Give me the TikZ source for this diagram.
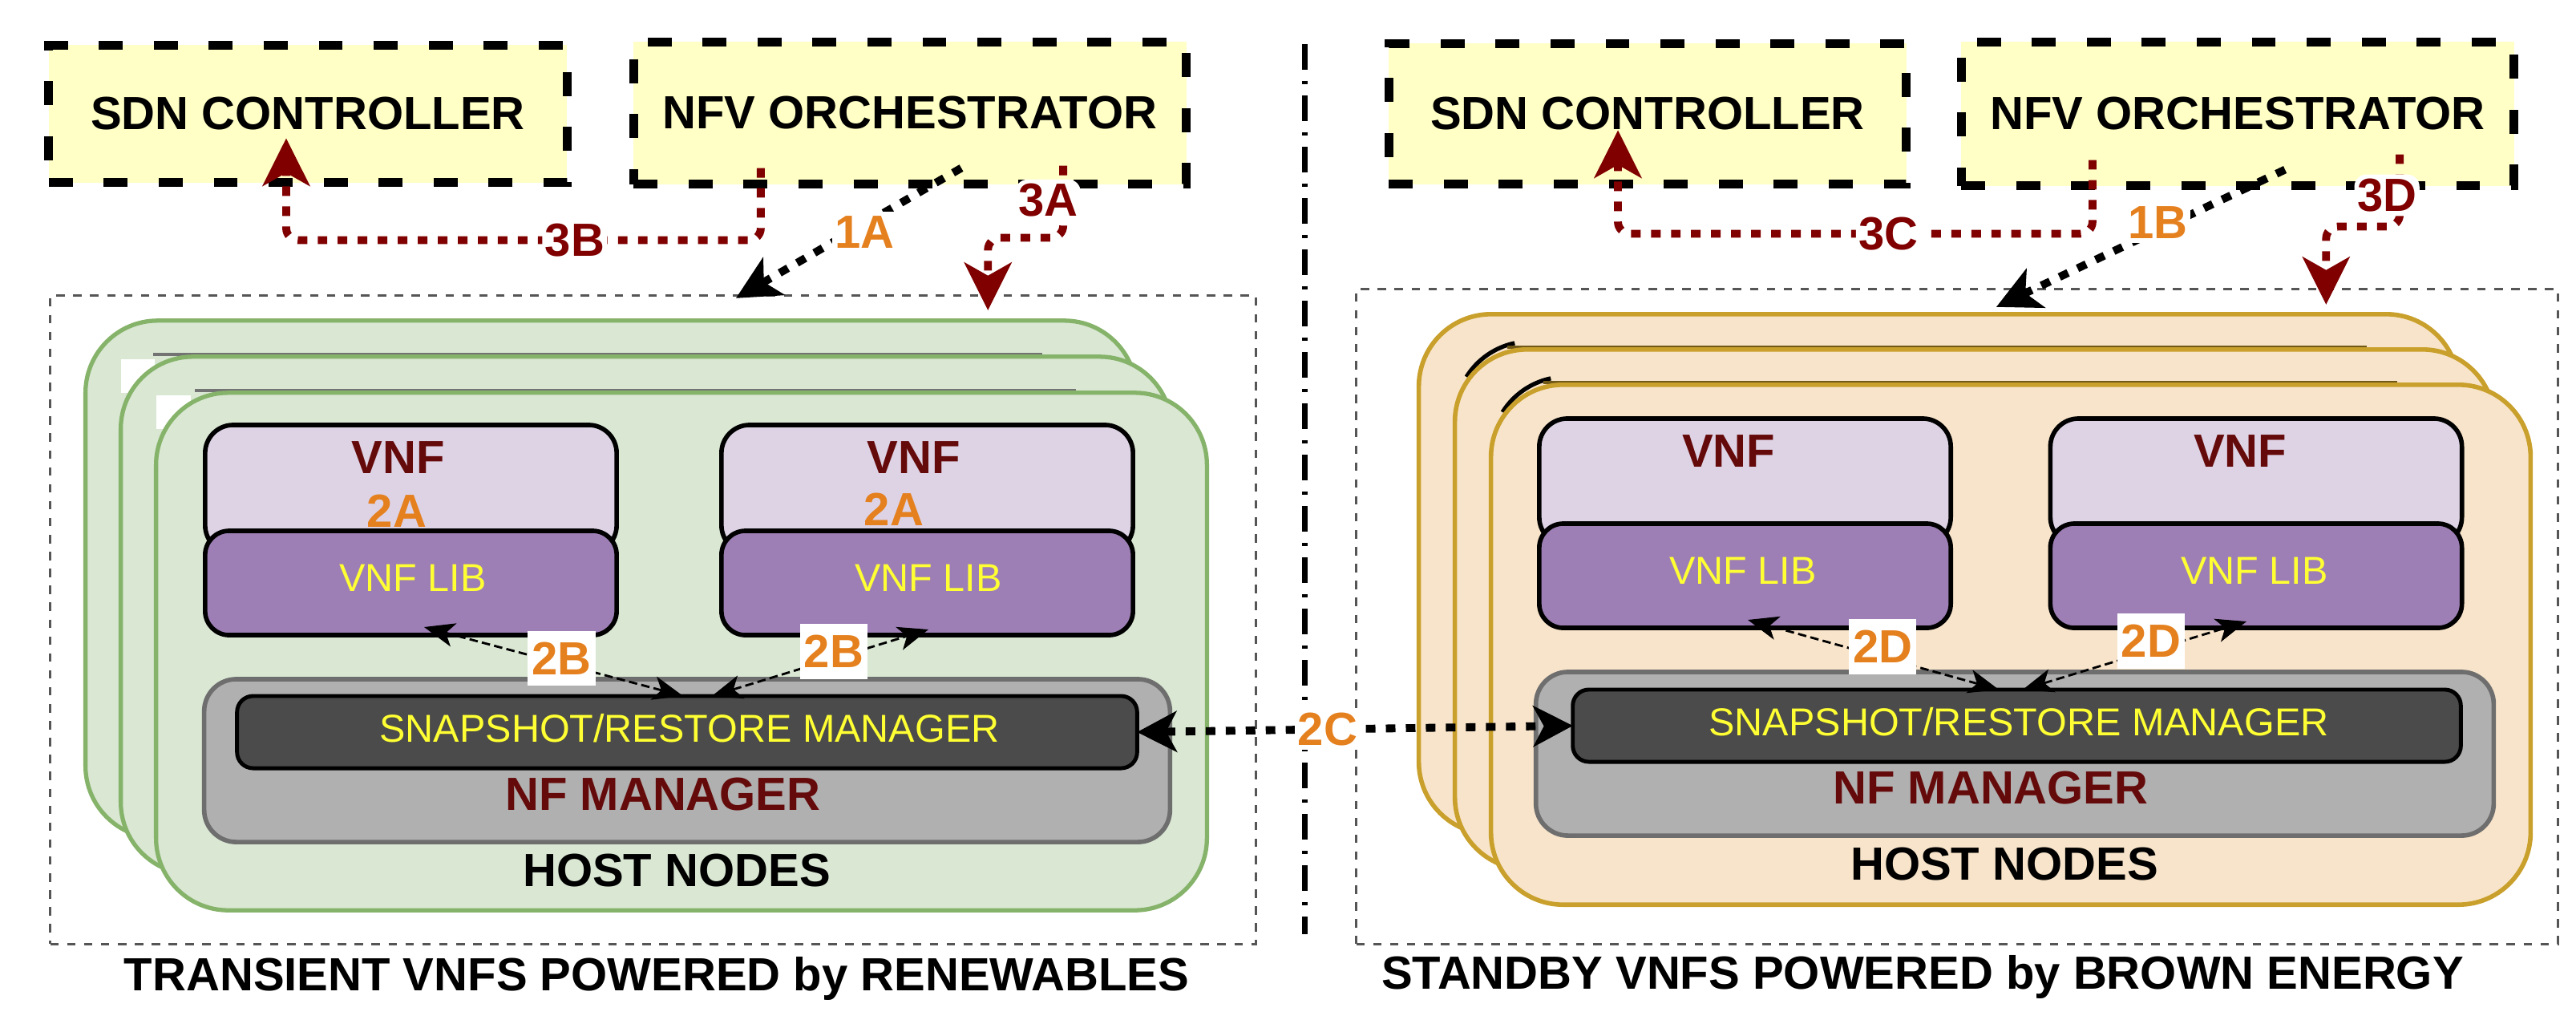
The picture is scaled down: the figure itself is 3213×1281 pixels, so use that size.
\documentclass[tikz,border=0pt]{standalone}
\usepackage{fontspec}
\setmainfont{Liberation Sans}
\usetikzlibrary{arrows.meta,calc}
\definecolor{ylw}{HTML}{FFFFC6}
\definecolor{gfill}{HTML}{D9E7D3}
\definecolor{gstroke}{HTML}{86B36A}
\definecolor{tfill}{HTML}{F8E4CA}
\definecolor{tstroke}{HTML}{C9A02C}
\definecolor{lav}{HTML}{DDD3E5}
\definecolor{purp}{HTML}{9D7FB5}
\definecolor{nfgray}{HTML}{B0B0B0}
\definecolor{nfedge}{HTML}{6E6E6E}
\definecolor{snapc}{HTML}{4B4B4B}
\definecolor{dred}{HTML}{800000}
\definecolor{maroonc}{HTML}{650A0A}
\definecolor{orng}{HTML}{E5801F}
\definecolor{ytext}{HTML}{FFFF33}
\definecolor{contc}{HTML}{555555}
\newcommand\fbold{\fontsize{16.5}{19}\selectfont\bfseries}
\newcommand\freg{\fontsize{13.8}{16}\selectfont}
\tikzset{
  ybox/.style={draw=black, fill=ylw, line width=3.1pt, dash pattern=on 8.5pt off 11pt, inner sep=0pt, outer sep=0pt, font=\fbold},
  cont/.style={draw=contc, line width=0.85pt, dash pattern=on 3pt off 3pt, inner sep=0pt, outer sep=0pt},
  gbox/.style={draw=gstroke, fill=gfill, line width=1.5pt, rounded corners=0.9cm, inner sep=0pt, outer sep=0pt, minimum width=13.1cm, minimum height=6.45cm},
  tbox/.style={draw=tstroke, fill=tfill, line width=1.6pt, rounded corners=0.9cm, inner sep=0pt, outer sep=0pt, minimum width=12.96cm, minimum height=6.48cm},
  vnftop/.style={draw=black, fill=lav, line width=1.6pt, rounded corners=0.35cm, inner sep=0pt, outer sep=0pt, minimum width=5.13cm},
  vnflib/.style={draw=black, fill=purp, line width=1.6pt, rounded corners=0.3cm, inner sep=0pt, outer sep=0pt, minimum width=5.13cm, minimum height=1.3cm},
  nfm/.style={draw=nfedge, fill=nfgray, line width=1.6pt, rounded corners=0.4cm, inner sep=0pt, outer sep=0pt},
  snapbar/.style={draw=black, fill=snapc, line width=1.4pt, rounded corners=0.2cm, inner sep=0pt, outer sep=0pt, minimum height=0.9cm},
  tb/.style={font=\fbold, inner sep=0pt, anchor=base},
  tr/.style={font=\freg, inner sep=0pt, anchor=base, text=ytext},
  lbl/.style={fill=white, inner xsep=1pt, inner ysep=1.5pt, font=\fbold},
  lbltwo/.style={fill=white, inner xsep=1.5pt, inner ysep=4pt, font=\fbold, text=orng},
  redarr/.style={draw=dred, line width=2.8pt, dash pattern=on 3.4pt off 3.7pt, rounded corners=0.15cm,
     -{Stealth[length=0.6cm,width=0.6cm,inset=0.17cm,line width=0.4pt]}},
  blkarr/.style={draw=black, line width=2.8pt, dash pattern=on 3.4pt off 3.7pt,
     -{Stealth[length=0.55cm,width=0.55cm,inset=0.15cm,line width=0.4pt]}},
  dblarr/.style={draw=black, line width=2.8pt, dash pattern=on 3.4pt off 3.7pt,
     {Stealth[length=0.5cm,width=0.52cm,inset=0.14cm,line width=0.4pt]}-{Stealth[length=0.5cm,width=0.52cm,inset=0.14cm,line width=0.4pt]}},
  thinarr/.style={draw=black, line width=0.8pt, dash pattern=on 3pt off 1.5pt,
     {Stealth[length=0.38cm,width=0.3cm,inset=0.1cm,line width=0.3pt]}-{Stealth[length=0.38cm,width=0.3cm,inset=0.1cm,line width=0.3pt]}},
  divider/.style={draw=black, line width=2pt, dash pattern=on 9pt off 4pt on 1.2pt off 4pt},
  gshade/.style={draw=black!55, line width=1.2pt},
  tshade/.style={draw=black, line width=1.5pt},
}
\begin{document}
\begin{tikzpicture}[x=0.01cm,y=-0.01cm]
\fill[white] (0,0) rectangle (3213,1281);
\useasboundingbox (0,0) rectangle (3213,1281);

% divider
\draw[divider] (1627,55) -- (1627,1165);

% top boxes
\node[ybox, minimum width=6.46cm, minimum height=1.71cm] (sdnL) at (384,142) {SDN CONTROLLER};
\node[ybox, minimum width=6.89cm, minimum height=1.77cm] (nfvL) at (1135,141) {NFV ORCHESTRATOR};
\node[ybox, minimum width=6.45cm, minimum height=1.75cm] (sdnR) at (2055,142) {SDN CONTROLLER};
\node[ybox, minimum width=6.89cm, minimum height=1.79cm] (nfvR) at (2791,142) {NFV ORCHESTRATOR};

% containers
\node[cont, minimum width=15.03cm, minimum height=8.08cm] (contL) at (814.5,773) {};
\node[cont, minimum width=14.98cm, minimum height=8.16cm] (contR) at (2441,769) {};

% green host stack
\node[gbox] (hostL1) at (762,722.5) {};
\fill[white] (151,448) rectangle (193,490);
\draw[gshade] (191,442) -- (1300,442);
\node[gbox] (hostL2) at (806,767.5) {};
\fill[white] (195,493) rectangle (238,535);
\draw[gshade] (243,487) -- (1342,487);
\node[gbox] (hostL3) at (850,812.5) {};

% tan host stack
\node[tbox] (hostR1) at (2418,716) {};
\draw[tshade] (1829,470) arc[start angle=148, end angle=102, radius=0.94cm];
\draw[draw=black!45!tstroke, line width=1.4pt] (1880,433) -- (2952,433);
\node[tbox] (hostR2) at (2463,760) {};
\draw[tshade] (1874,514) arc[start angle=148, end angle=102, radius=0.94cm];
\draw[draw=black!45!tstroke, line width=1.4pt] (1925,477) -- (2990,477);
\node[tbox] (hostR3) at (2508,804) {};

% VNF boxes left
\node[vnftop, minimum height=1.6cm] (vnfL1) at (512.5,610) {};
\node[vnflib] (libL1) at (512.5,727) {};
\node[vnftop, minimum height=1.6cm] (vnfL2) at (1156.5,610) {};
\node[vnflib] (libL2) at (1156.5,727) {};
% VNF boxes right
\node[vnftop, minimum height=1.58cm] (vnfR1) at (2176.5,601) {};
\node[vnflib] (libR1) at (2176.5,718) {};
\node[vnftop, minimum height=1.58cm] (vnfR2) at (2814,601) {};
\node[vnflib] (libR2) at (2814,718) {};

% NF managers
\node[nfm, minimum width=12.04cm, minimum height=2.03cm] (nfmL) at (857,948.5) {};
\node[snapbar, minimum width=11.22cm] (snapL) at (857,913) {};
\node[nfm, minimum width=11.94cm, minimum height=2.04cm] (nfmR) at (2513,940) {};
\node[snapbar, minimum width=11.07cm] (snapR) at (2515.5,905) {};

% texts left
\node[tb, text=maroonc] (tVNFL1) at (497,590) {VNF};
\node[tb, text=orng] (t2AL1) at (495,657) {2A};
\node[tr] (tLibL1) at (515,737) {VNF LIB};
\node[tb, text=maroonc] (tVNFL2) at (1140,590) {VNF};
\node[tb, text=orng] (t2AL2) at (1115,655) {2A};
\node[tr] (tLibL2) at (1158,737) {VNF LIB};
\node[tr] (tSnapL) at (860,925) {SNAPSHOT/RESTORE MANAGER};
\node[tb, text=maroonc] (tNFL) at (827,1010) {NF MANAGER};
\node[tb, text=black] (tHostL) at (844,1105) {HOST NODES};
\node[tb, text=black] (capL) at (819,1235) {TRANSIENT VNFS POWERED by RENEWABLES};
% texts right
\node[tb, text=maroonc] (tVNFR1) at (2156,582) {VNF};
\node[tr] (tLibR1) at (2174,728) {VNF LIB};
\node[tb, text=maroonc] (tVNFR2) at (2794,582) {VNF};
\node[tr] (tLibR2) at (2812,728) {VNF LIB};
\node[tr] (tSnapR) at (2518,917) {SNAPSHOT/RESTORE MANAGER};
\node[tb, text=maroonc] (tNFR) at (2483,1002) {NF MANAGER};
\node[tb, text=black] (tHostR) at (2500,1097) {HOST NODES};
\node[tb, text=black] (capR) at (2398,1233) {STANDBY VNFS POWERED by BROWN ENERGY};

% internal arrows 2B / 2D
\draw[thinarr] ([xshift=-0.05cm]snapL.north) -- node[lbltwo, pos=0.47, yshift=0.065cm] (l2B1) {2B} ([xshift=0.165cm,yshift=0.1cm]libL1.south);
\draw[thinarr] ([xshift=0.31cm]snapL.north) -- node[lbltwo, pos=0.563, yshift=0.09cm] (l2B2) {2B} ([xshift=0.015cm,yshift=0.07cm]libL2.south);
\draw[thinarr] ([xshift=-0.225cm]snapR.north) -- node[lbltwo, pos=0.463, yshift=0.13cm] (l2D1) {2D} ([xshift=0.035cm,yshift=0.1cm]libR1.south);
\draw[thinarr] ([xshift=0.075cm]snapR.north) -- node[lbltwo, pos=0.573, yshift=0.12cm] (l2D2) {2D} ([xshift=-0.12cm,yshift=0.08cm]libR2.south);

% 2C
\draw[dblarr] (snapL.east) -- node[lbl, text=orng, pos=0.4375] (l2C) {2C} (snapR.west);

% top connectors left
\draw[redarr] ([xshift=-1.86cm,yshift=0.2cm]nfvL.south) -- ++(0,90) -| node[lbl, text=dred, pos=0.196] (l3B) {3B} ([xshift=-0.27cm,yshift=0.55cm]sdnL.south);
\draw[redarr] ([xshift=1.91cm,yshift=0.23cm]nfvL.south) -- node[lbl, text=dred, pos=0.48, xshift=-0.19cm] (l3A) {3A} ++(0,90) -| ([xshift=4.175cm,yshift=-0.18cm]contL.north);
\draw[blkarr] ([xshift=0.64cm,yshift=0.2cm]nfvL.south) -- node[lbl, text=orng, pos=0.43, yshift=-0.1cm] (l1A) {1A} ([xshift=1.035cm,yshift=-0.03cm]contL.north);

% top connectors right
\draw[redarr] ([xshift=-1.81cm,yshift=0.32cm]nfvR.south) -- ++(0,92) -| node[lbl, text=dred, pos=0.215] (l3C) {3C} ([xshift=-0.37cm,yshift=0.67cm]sdnR.south);
\draw[redarr] ([xshift=2.02cm,yshift=0.39cm]nfvR.south) -- node[lbl, text=dred, pos=0.567, xshift=-0.16cm] (l3D) {3D} ++(0,90) -| ([xshift=4.6cm,yshift=-0.19cm]contR.north);
\draw[blkarr] ([xshift=0.59cm,yshift=0.2cm]nfvR.south) -- node[lbl, text=orng, pos=0.44, yshift=0.09cm] (l1B) {1B} ([xshift=0.49cm,yshift=-0.22cm]contR.north);
\end{tikzpicture}
\end{document}
